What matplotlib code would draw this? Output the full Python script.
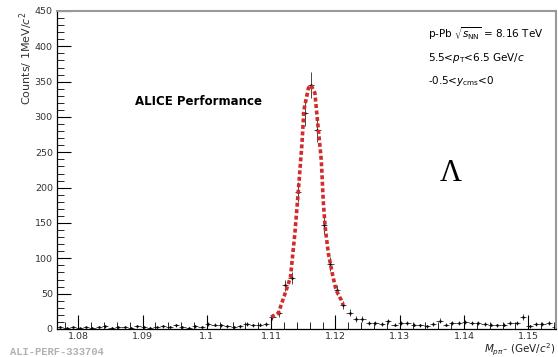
import numpy as np
import matplotlib
matplotlib.use("Agg")
import matplotlib.pyplot as plt
from matplotlib.ticker import MultipleLocator

# ---- data ----
bin_width = 0.001
first_center = 1.0772
counts = [3, 2, 3, 1, 3, 2, 3, 4, 2, 3, 3, 2, 4, 3, 2, 3, 4, 3, 5, 3, 2, 4, 3,
          7, 6, 5, 4, 3, 4, 7, 5, 6, 7,
          17, 22, 62, 72, 194, 305, 345, 281, 147, 92, 55, 34,
          23, 14, 14, 8, 8, 7, 11, 6, 9, 8, 6, 5, 4, 7,
          12, 6, 8, 9, 10, 9, 8, 7, 6, 5, 6, 8, 9, 17, 4, 7, 7, 8, 3]
fit_x = [1.1100, 1.1111, 1.1122, 1.1130, 1.1137, 1.1142, 1.1148, 1.1151, 1.1158,
         1.1162, 1.1168, 1.1173, 1.1178, 1.1181, 1.1184, 1.1189, 1.1195, 1.1201,
         1.1209, 1.1212]
fit_y = [17, 22, 51, 73, 136, 192, 263, 310, 341, 345, 334, 286, 239, 182, 144,
         107, 79, 55, 41, 34]
x_ticks = [1.08, 1.09, 1.10, 1.11, 1.12, 1.13, 1.14, 1.15]
x_tick_labels = ["1.08", "1.09", "1.1", "1.11", "1.12", "1.13", "1.14", "1.15"]

counts = np.array(counts, dtype=float)
centers = first_center + bin_width * np.arange(len(counts))

fig = plt.figure(figsize=(5.58, 3.57), dpi=100)
ax = fig.add_axes([57/558, 1-329/357, 499/558, 318/357])

ax.errorbar(centers, counts, yerr=np.sqrt(counts), xerr=bin_width/2,
            fmt='.', ms=1.6, color='black', ecolor='black', elinewidth=0.5,
            capsize=0, zorder=2)
ax.plot(fit_x, fit_y, color='#d22b2b', lw=2.6, dashes=(1.1, 0.7), zorder=3)

ax.set_xlim(1.0767, 1.1543)
ax.set_ylim(0, 450)
ax.set_xticks(x_ticks)
ax.set_xticklabels(x_tick_labels)
ax.xaxis.set_minor_locator(MultipleLocator(0.002))
ax.yaxis.set_major_locator(MultipleLocator(50))
ax.yaxis.set_minor_locator(MultipleLocator(10))
ax.tick_params(axis='both', which='major', direction='in', length=10, width=0.8,
               labelsize=6.8, colors='black', top=False, right=False)
ax.tick_params(axis='both', which='minor', direction='in', length=5, width=0.6,
               top=False, right=False)
ax.tick_params(axis='x', which='major', pad=2.5, labelcolor='#333333')
ax.tick_params(axis='y', which='major', pad=3, labelcolor='#333333')
for s in ['left', 'bottom']:
    ax.spines[s].set_color('black')
    ax.spines[s].set_linewidth(0.9)
for s in ['top', 'right']:
    ax.spines[s].set_color('#999999')
    ax.spines[s].set_linewidth(1.5)

ax.set_ylabel("Counts/ 1MeV/$c^{2}$", fontsize=8, color='#333333',
              ha='right', va='center')
ax.yaxis.set_label_coords(-0.062, 1.0)

fig.text(556/558, 1-350/357, r"$M_{p\pi^{-}}$ (GeV/$c^{2}$)", fontsize=7.5,
         color='#222222', ha='right', va='center')

ax.text(0.157, 0.716, "ALICE Performance", transform=ax.transAxes, fontsize=8.5,
        fontweight='bold', va='center', ha='left')
ax.text(0.744, 0.93, r"p-Pb $\sqrt{s_{\rm NN}}$ = 8.16 TeV", transform=ax.transAxes,
        fontsize=7.5, va='center', ha='left')
ax.text(0.744, 0.853, r"5.5<$p_{\rm T}$<6.5 GeV/$c$", transform=ax.transAxes,
        fontsize=7.5, va='center', ha='left')
ax.text(0.744, 0.78, r"-0.5<$y_{\rm cms}$<0", transform=ax.transAxes,
        fontsize=7.5, va='center', ha='left')
ax.text(0.79, 0.49, "Λ", transform=ax.transAxes, fontsize=22,
        family='Liberation Serif', va='center', ha='center')

fig.text(10/558, 1-352/357, "ALI-PERF-333704", fontsize=7.5, family='Liberation Mono',
         fontweight='bold', color='#b0b0b0', va='center', ha='left')

fig.savefig("out.png", dpi=100)
